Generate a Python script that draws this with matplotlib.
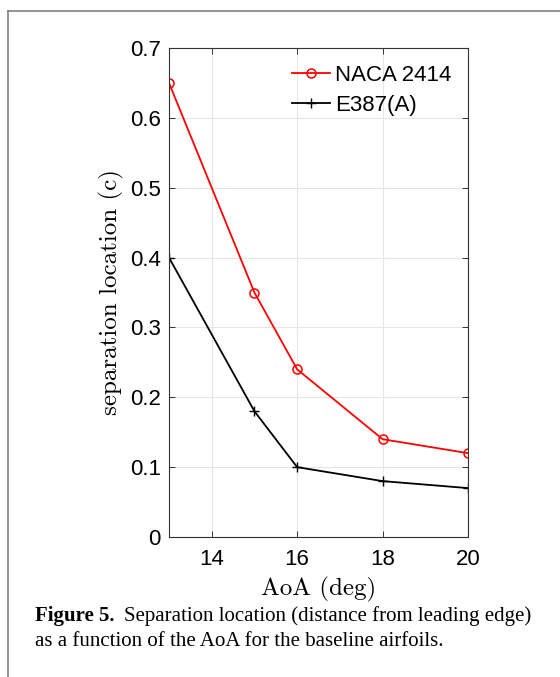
"""Separation location vs AoA for the baseline airfoils."""

import matplotlib
matplotlib.use("Agg")
import matplotlib.pyplot as plt
from matplotlib.lines import Line2D

aoa = [13, 15, 16, 18, 20]
naca_2414 = [0.65, 0.35, 0.24, 0.14, 0.12]
e387_a = [0.40, 0.18, 0.10, 0.08, 0.07]
x_ticks = [14, 16, 18, 20]
y_ticks = [0, 0.1, 0.2, 0.3, 0.4, 0.5, 0.6, 0.7]
y_tick_labels = ["0", "0.1", "0.2", "0.3", "0.4", "0.5", "0.6", "0.7"]

W, H = 560, 677
sans = ["Liberation Sans", "DejaVu Sans"]
serif = ["Liberation Serif", "DejaVu Serif"]

fig = plt.figure(figsize=(W / 100, H / 100), dpi=100)
ax = fig.add_axes([169 / W, 140 / H, 299 / W, 489 / H])

ax.plot(aoa, naca_2414, color="#ff0000", lw=1.3, marker="o", ms=6.5,
        mfc="none", mew=1.1, label="NACA 2414")
ax.plot(aoa, e387_a, color="#000000", lw=1.3, marker="+", ms=6.5,
        mew=1.0, label="E387(A)")

ax.set_xlim(13, 20)
ax.set_ylim(0, 0.7)
ax.set_xticks(x_ticks)
ax.set_yticks(y_ticks)
ax.set_yticklabels(y_tick_labels)
ax.grid(True, color="#e6e6e6", lw=0.8)
ax.set_axisbelow(True)
ax.tick_params(direction="in", top=True, right=True, length=4, width=0.7,
               colors="#333333", labelcolor="black", labelsize=16)
ax.tick_params(axis="x", pad=8.5)
ax.tick_params(axis="y", pad=6)
for lbl in ax.get_xticklabels() + ax.get_yticklabels():
    lbl.set_family(sans)
for sp in ax.spines.values():
    sp.set_color("#333333")
    sp.set_linewidth(0.8)

ax.set_xlabel("AoA (deg)", family="cmr10", fontsize=18, labelpad=5)
ax.set_ylabel("separation location (c)", family="cmr10", fontsize=18, labelpad=4)

ax.legend(loc="upper right", frameon=False, handlelength=1.7,
          handletextpad=0.22, labelspacing=0.4, borderaxespad=0.35,
          prop={"family": sans, "size": 16})

# page frame around the figure
fig.add_artist(Line2D([8 / W, 8 / W], [0, 1 - 11 / H], transform=fig.transFigure,
                      color="#808080", lw=1.2))
fig.add_artist(Line2D([8 / W, 1], [1 - 11 / H, 1 - 11 / H], transform=fig.transFigure,
                      color="#808080", lw=1.2))

# caption
cap_x, cap_y1, cap_y2 = 35 / W, 1 - 621 / H, 1 - 646 / H
bold = fig.text(cap_x, cap_y1, "Figure 5.", family=serif, weight="bold",
                fontsize=15, va="baseline")
fig.canvas.draw()
bb = bold.get_window_extent(fig.canvas.get_renderer())
fig.text(bb.x1 / W + 10 / W, cap_y1,
         "Separation location (distance from leading edge)",
         family=serif, fontsize=15, va="baseline")
fig.text(cap_x, cap_y2, "as a function of the AoA for the baseline airfoils.",
         family=serif, fontsize=15, va="baseline")

fig.savefig("out.png", dpi=100)
